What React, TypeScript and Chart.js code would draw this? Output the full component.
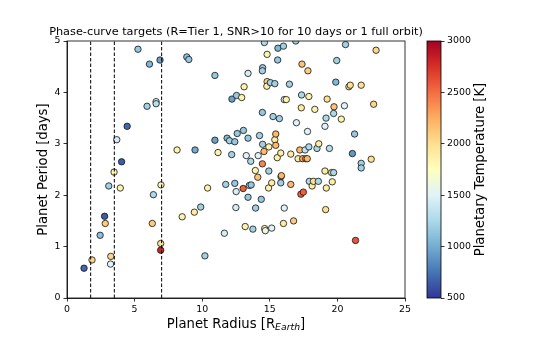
import React, { useEffect, useRef } from "react";
import { Chart, registerables } from "chart.js";

Chart.register(...registerables);

// ---- Data ----
const radius = [
  1.26, 1.85, 2.45, 2.78, 2.83, 3.09, 3.24, 3.22, 3.48, 3.68,
  3.94, 4.04, 4.45, 5.25, 6.10, 5.92, 6.59, 6.59, 6.88, 6.39,
  6.95, 6.31, 6.93, 6.93, 8.14, 8.52, 8.86, 9.01, 9.47, 9.42,
  9.89, 10.2, 10.4, 10.94, 10.94, 11.17, 11.74, 11.64, 11.84, 12.02,
  12.2, 12.54, 12.18, 12.41, 12.41, 12.51, 12.49, 12.59, 12.92, 13.05,
  13.1, 13.03, 13.18, 13.26, 13.39, 13.39, 13.39, 13.49, 13.62, 13.59,
  13.75, 13.93, 13.95, 14.11, 14.14, 14.24, 14.37, 14.45, 14.45, 14.47,
  14.47, 14.45, 14.6, 14.57, 14.62, 14.67, 14.8, 14.8, 14.78, 14.93,
  14.93, 14.91, 15.04, 15.14, 15.14, 15.24, 15.37, 15.37, 15.44, 15.44,
  15.55, 15.58, 15.6, 15.71, 15.81, 15.83, 15.86, 15.81, 16.01, 16.01,
  16.07, 16.07, 16.22, 16.45, 16.55, 16.55, 16.76, 16.92, 16.97, 17.09,
  17.22, 17.3, 17.48, 17.35, 17.33, 17.38, 17.43, 17.61, 17.66, 17.77,
  17.82, 17.79, 17.89, 17.89, 17.92, 18.13, 18.23, 18.33, 18.49, 18.59,
  18.62, 19.08, 19.08, 19.13, 19.16, 19.18, 19.24, 19.41, 19.57, 19.72,
  19.62, 19.75, 19.72, 19.88, 19.95, 20.29, 20.52, 20.6, 20.85, 20.95,
  21.11, 21.27, 21.34, 21.76, 21.76, 21.76, 22.5, 22.68, 22.86,
];

const period = [
  0.58, 0.74, 1.22, 1.59, 1.45, 2.18, 0.81, 0.66, 2.45, 3.08,
  2.14, 2.65, 3.34, 4.84, 4.55, 3.73, 3.82, 3.78, 4.63, 2.01,
  2.20, 1.45, 1.06, 0.93, 2.88, 1.58, 4.69, 4.64, 2.88, 1.67,
  1.77, 0.82, 2.14, 4.33, 3.07, 2.83, 2.21, 1.26, 3.11, 3.06,
  3.87, 3.94, 2.79, 3.04, 2.23, 2.07, 1.76, 3.2, 3.9, 3.26,
  4.11, 2.13, 1.39, 2.77, 3.11, 4.37, 1.96, 2.19, 2.2, 2.66,
  1.34, 2.48, 1.75, 2.35, 2.77, 3.16, 1.92, 2.61, 3.61, 2.99,
  4.48, 4.42, 4.97, 2.85, 1.35, 1.31, 4.74, 4.21, 4.12, 2.94,
  2.47, 2.14, 4.19, 1.36, 2.24, 3.53, 3.08, 4.17, 3.19, 2.97,
  2.73, 4.63, 4.86, 3.49, 2.82, 2.36, 2.38, 2.24, 4.9, 1.45,
  1.75, 3.86, 3.86, 4.16, 2.8, 2.21, 1.5, 5.0, 3.41, 2.71,
  2.88, 2.02, 2.06, 3.95, 3.7, 4.55, 2.71, 2.88, 2.71, 2.71,
  4.42, 3.24, 3.92, 2.94, 2.27, 2.18, 2.27, 3.67, 2.91, 2.27,
  3.0, 3.34, 2.47, 1.72, 3.5, 2.14, 3.87, 2.91, 2.44, 2.44,
  2.26, 3.72, 3.59, 4.2, 4.62, 3.48, 3.74, 4.93, 4.11, 4.14,
  2.81, 3.19, 1.12, 4.14, 2.62, 2.53, 2.7, 3.77, 4.82,
];

const temperature = [
  700, 2050, 1100, 650, 2100, 1200, 2050, 1500, 1850, 1450,
  1850, 650, 700, 1150, 1050, 1200, 1500, 1300, 950, 1250,
  1850, 2100, 2000, 2800, 1850, 1850, 1100, 1150, 1000, 1900,
  1200, 1200, 1850, 1150, 950, 1850, 1200, 1450, 1050, 1200,
  950, 1150, 1200, 1150, 1150, 1450, 1450, 1150, 1850, 1150,
  1850, 2550, 1850, 1500, 1150, 1450, 1150, 1200, 1150, 1250,
  1200, 1850, 1200, 2150, 1500, 1200, 1150, 2400, 1150, 1200,
  1150, 1200, 1250, 2200, 1850, 1600, 1850, 2100, 1900, 1850,
  1200, 1850, 1200, 1500, 1900, 1200, 1900, 1200, 2200, 2200,
  1850, 1150, 1050, 1200, 1900, 1200, 2200, 1200, 1200, 1900,
  1500, 1450, 1850, 1200, 1900, 2200, 2100, 1200, 1500, 1900,
  2200, 2550, 2550, 1250, 1900, 2150, 2300, 1350, 2300, 2200,
  2100, 1500, 1850, 1250, 1250, 1900, 2000, 1850, 1250, 1250,
  1900, 1500, 1900, 2000, 1250, 1900, 2000, 1300, 1950, 1250,
  1900, 2150, 1250, 1050, 1200, 1850, 1500, 1200, 2000, 2000,
  900, 1150, 2600, 2000, 1200, 1200, 2000, 2050, 2050,
];

const separators = [1.75, 3.5, 7.0];
const xTickValues = [0, 5, 10, 15, 20, 25];
const yTickValues = [0, 1, 2, 3, 4, 5];
const cbarTickValues = [500, 1000, 1500, 2000, 2500, 3000];

const TITLE = "Phase-curve targets (R=Tier 1, SNR>10 for 10 days or 1 full orbit)";
const Y_LABEL = "Planet Period [days]";
const CBAR_LABEL = "Planetary Temperature [K]";

// RdYlBu_r colormap anchors
const RDYLBU_R = [
  "#313695", "#4575b4", "#74add1", "#abd9e9", "#e0f3f8", "#ffffbf",
  "#fee090", "#fdae61", "#f46d43", "#d73027", "#a50026",
];
const TMIN = cbarTickValues[0];
const TMAX = cbarTickValues[cbarTickValues.length - 1];

const FONT = "'DejaVu Sans', sans-serif";

function hexToRgb(h: string): number[] {
  const n = parseInt(h.slice(1), 16);
  return [(n >> 16) & 255, (n >> 8) & 255, n & 255];
}

function cmap(t: number): string {
  let f = (t - TMIN) / (TMAX - TMIN);
  f = Math.max(0, Math.min(1, f)) * (RDYLBU_R.length - 1);
  const i = Math.min(Math.floor(f), RDYLBU_R.length - 2);
  const fr = f - i;
  const a = hexToRgb(RDYLBU_R[i]);
  const b = hexToRgb(RDYLBU_R[i + 1]);
  const c = a.map((v, k) => Math.round(v + (b[k] - v) * fr));
  return `rgb(${c[0]},${c[1]},${c[2]})`;
}

const W = 545;
const H = 341;
const PLOT_LEFT = 67;
const PLOT_RIGHT = 405;
const PLOT_TOP = 41;
const PLOT_BOTTOM = 298;
const CB_LEFT = 427;
const CB_RIGHT = 441;

export default function App() {
  const mainRef = useRef<HTMLCanvasElement | null>(null);
  const cbarRef = useRef<HTMLCanvasElement | null>(null);

  useEffect(() => {
    if (!mainRef.current || !cbarRef.current) return;

    const points = radius.map((r, i) => ({ x: r, y: period[i] }));

    const frameAndLabels = {
      id: "frameAndLabels",
      afterDraw(chart: any) {
        const { ctx, chartArea } = chart;
        const cx = (chartArea.left + chartArea.right) / 2;
        ctx.save();
        ctx.strokeStyle = "#000";
        ctx.lineWidth = 0.8;
        ctx.strokeRect(chartArea.left, chartArea.top, chartArea.right - chartArea.left, chartArea.bottom - chartArea.top);

        // title
        ctx.fillStyle = "#000";
        ctx.font = `11.3px ${FONT}`;
        ctx.textAlign = "center";
        ctx.textBaseline = "alphabetic";
        ctx.fillText(TITLE, cx, 35);

        // x-axis label with subscript
        const main1 = "Planet Radius [R";
        const sub = "Earth";
        const main2 = "]";
        ctx.textAlign = "left";
        const bigFont = `13.2px ${FONT}`;
        const subFont = `italic 9.3px ${FONT}`;
        ctx.font = bigFont;
        const w1 = ctx.measureText(main1).width;
        const w3 = ctx.measureText(main2).width;
        ctx.font = subFont;
        const w2 = ctx.measureText(sub).width;
        const total = w1 + w2 + w3;
        let x = cx - total / 2;
        const baseY = 327.5;
        ctx.font = bigFont;
        ctx.fillText(main1, x, baseY);
        x += w1;
        ctx.font = subFont;
        ctx.fillText(sub, x, baseY + 2.8);
        x += w2;
        ctx.font = bigFont;
        ctx.fillText(main2, x, baseY);
        ctx.restore();
      },
    };

    const mainChart = new Chart(mainRef.current, {
      type: "scatter",
      data: {
        datasets: [
          ...separators.map((s) => ({
            data: [
              { x: s, y: yTickValues[0] },
              { x: s, y: yTickValues[yTickValues.length - 1] },
            ],
            showLine: true,
            borderColor: "#000",
            borderWidth: 1,
            borderDash: [3.5, 2],
            pointRadius: 0,
            fill: false,
          })),
          {
            data: points,
            backgroundColor: temperature.map(cmap),
            borderColor: "#111",
            borderWidth: 0.8,
            pointRadius: 3.2,
            clip: 0,
          },
        ],
      } as any,
      options: {
        responsive: false,
        animation: false,
        events: [],
        layout: { padding: { left: 0, right: W - PLOT_RIGHT, top: PLOT_TOP, bottom: 0 } },
        plugins: {
          legend: { display: false },
          tooltip: { enabled: false },
          title: { display: false },
        },
        scales: {
          x: {
            type: "linear",
            min: xTickValues[0],
            max: xTickValues[xTickValues.length - 1],
            afterFit: (s: any) => {
              s.height = H - PLOT_BOTTOM;
            },
            afterBuildTicks: (s: any) => {
              s.ticks = xTickValues.map((v) => ({ value: v }));
            },
            ticks: {
              color: "#000",
              font: { family: FONT, size: 9.4 },
              padding: 2.5,
              autoSkip: false,
              maxRotation: 0,
              callback: (v: any) => String(v),
            },
            grid: {
              display: true,
              drawOnChartArea: false,
              drawTicks: true,
              tickLength: 3.5,
              tickColor: "#000",
              tickWidth: 0.8,
            },
            border: { display: true, color: "#000", width: 0.8 },
          },
          y: {
            type: "linear",
            min: yTickValues[0],
            max: yTickValues[yTickValues.length - 1],
            afterFit: (s: any) => {
              s.width = PLOT_LEFT;
            },
            afterBuildTicks: (s: any) => {
              s.ticks = yTickValues.map((v) => ({ value: v }));
            },
            ticks: {
              color: "#000",
              font: { family: FONT, size: 9.4 },
              padding: 3,
              autoSkip: false,
              callback: (v: any) => String(v),
            },
            grid: {
              display: true,
              drawOnChartArea: false,
              drawTicks: true,
              tickLength: 3.5,
              tickColor: "#000",
              tickWidth: 0.8,
            },
            border: { display: true, color: "#000", width: 0.8 },
            title: {
              display: true,
              text: Y_LABEL,
              color: "#000",
              font: { family: FONT, size: 13.2 },
              padding: { top: 36, bottom: 0 },
            },
          },
        },
      } as any,
      plugins: [frameAndLabels],
    });

    const cbarPlugin = {
      id: "cbarDecor",
      afterDraw(chart: any) {
        const { ctx, chartArea } = chart;
        ctx.save();
        ctx.strokeStyle = "#000";
        ctx.lineWidth = 0.8;
        ctx.strokeRect(chartArea.left, chartArea.top, chartArea.right - chartArea.left, chartArea.bottom - chartArea.top);
        ctx.translate(481, (chartArea.top + chartArea.bottom) / 2);
        ctx.rotate(-Math.PI / 2);
        ctx.fillStyle = "#000";
        ctx.font = `13.2px ${FONT}`;
        ctx.textAlign = "center";
        ctx.textBaseline = "middle";
        ctx.fillText(CBAR_LABEL, 0, 0);
        ctx.restore();
      },
    };

    const cbarChart = new Chart(cbarRef.current, {
      type: "bar",
      data: {
        labels: ["T"],
        datasets: [
          {
            data: [[TMIN, TMAX]],
            backgroundColor: (c: any) => {
              const chart = c.chart;
              const area = chart.chartArea;
              if (!area) return "#ccc";
              const ys = chart.scales.y;
              const g = chart.ctx.createLinearGradient(0, ys.getPixelForValue(TMIN), 0, ys.getPixelForValue(TMAX));
              RDYLBU_R.forEach((col, i) => g.addColorStop(i / (RDYLBU_R.length - 1), col));
              return g;
            },
            borderWidth: 0,
            barPercentage: 1,
            categoryPercentage: 1,
          },
        ],
      } as any,
      options: {
        responsive: false,
        animation: false,
        events: [],
        layout: { padding: { left: CB_LEFT, right: 0, top: PLOT_TOP, bottom: H - PLOT_BOTTOM } },
        plugins: { legend: { display: false }, tooltip: { enabled: false }, title: { display: false } },
        scales: {
          x: { display: false },
          y: {
            position: "right",
            min: TMIN,
            max: TMAX,
            afterFit: (s: any) => {
              s.width = W - CB_RIGHT;
            },
            afterBuildTicks: (s: any) => {
              s.ticks = cbarTickValues.map((v) => ({ value: v }));
            },
            ticks: {
              color: "#000",
              font: { family: FONT, size: 9.4 },
              padding: 2.5,
              autoSkip: false,
              callback: (v: any) => String(v),
            },
            grid: {
              display: true,
              drawOnChartArea: false,
              drawTicks: true,
              tickLength: 3.5,
              tickColor: "#000",
              tickWidth: 0.8,
            },
            border: { display: false },
          },
        },
      } as any,
      plugins: [cbarPlugin],
    });

    return () => {
      mainChart.destroy();
      cbarChart.destroy();
    };
  }, []);

  return (
    <div style={{ position: "absolute", left: 0, top: 0, width: W, height: H, background: "#fff" }}>
      <canvas ref={mainRef} width={W} height={H} style={{ position: "absolute", left: 0, top: 0 }} />
      <canvas ref={cbarRef} width={W} height={H} style={{ position: "absolute", left: 0, top: 0 }} />
    </div>
  );
}
